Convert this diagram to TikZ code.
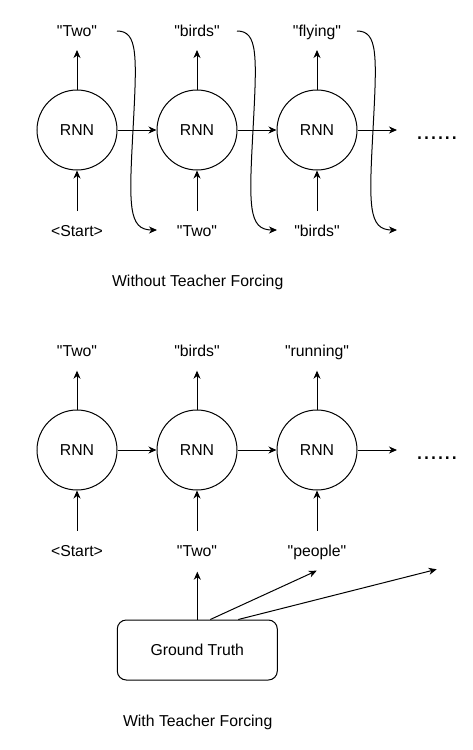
\documentclass[tikz,border=0pt]{standalone}
\usepackage{fontspec}
\setmainfont{Liberation Sans}[Ligatures=TeXOff]
\usetikzlibrary{arrows.meta}
\begin{document}
\begin{tikzpicture}[x=1pt,y=-1pt,
  txt/.style={font=\fontsize{15.8}{18}\selectfont},
  rnn/.style={draw,circle,minimum size=80pt,inner sep=0pt,line width=1pt,txt},
  lbl/.style={anchor=base,inner sep=0pt,txt},
  arr/.style={line width=1pt,-{Stealth[length=8pt,width=7pt,inset=2.5pt]}},
  gtbox/.style={draw,rounded corners=9pt,minimum width=160pt,minimum height=60pt,line width=1pt,inner sep=0pt,txt},
  dots/.style={anchor=base,inner sep=0pt,font=\fontsize{25}{28}\selectfont}
]
\useasboundingbox (0,0) rectangle (473,750);

% ---------- Without Teacher Forcing ----------
\node[rnn] (a1) at (77,130) {RNN};
\node[rnn] (a2) at (197,130) {RNN};
\node[rnn] (a3) at (317,130) {RNN};

\node[lbl] (at1) at (77,36) {"Two"};
\node[lbl] (at2) at (197,36) {"birds"};
\node[lbl] (at3) at (317,36) {"flying"};

\node[lbl] (ab1) at (77,236) {<Start>};
\node[lbl] (ab2) at (197,236) {"Two"};
\node[lbl] (ab3) at (317,236) {"birds"};

\node[dots] (adots) at (437,139) {......};

\coordinate (au1) at (77,50);
\coordinate (au2) at (197,50);
\coordinate (au3) at (317,50);
\coordinate (ad1) at (77,211);
\coordinate (ad2) at (197,211);
\coordinate (ad3) at (317,211);
\coordinate (aend) at (397,130);

\foreach \i in {1,2,3}{
  \draw[arr] (a\i) -- (au\i);
  \draw[arr] (ad\i) -- (a\i);
}
\draw[arr] (a1) -- (a2);
\draw[arr] (a2) -- (a3);
\draw[arr] (a3) -- (aend);

% curved feedback arrows
\foreach \k/\dx in {1/0,2/120,3/240}{
  \coordinate (cs\k) at (117+\dx,31);
  \coordinate (ce\k) at (157+\dx,230);
  \coordinate (cm\k) at (133+\dx,130);
  \draw[arr] (cs\k) .. controls (138+\dx,31) and (137+\dx,55) .. (cm\k)
     .. controls (129+\dx,205) and (128+\dx,230) .. (ce\k);
}

\node[lbl] (cap1) at (197.7,286) {Without Teacher Forcing};

% ---------- With Teacher Forcing ----------
\node[rnn] (b1) at (77,450) {RNN};
\node[rnn] (b2) at (197,450) {RNN};
\node[rnn] (b3) at (317,450) {RNN};

\node[lbl] (bt1) at (77,356.7) {"Two"};
\node[lbl] (bt2) at (197,356.7) {"birds"};
\node[lbl] (bt3) at (317,356.7) {"running"};

\node[lbl] (bb1) at (77,556) {<Start>};
\node[lbl] (bb2) at (197,556) {"Two"};
\node[lbl] (bb3) at (317,556) {"people"};

\node[dots] (bdots) at (437,459) {......};

\coordinate (bu1) at (77,370.7);
\coordinate (bu2) at (197,370.7);
\coordinate (bu3) at (317,370.7);
\coordinate (bd1) at (77,530.7);
\coordinate (bd2) at (197,530.7);
\coordinate (bd3) at (317,530.7);
\coordinate (bend) at (397,450);

\foreach \i in {1,2,3}{
  \draw[arr] (b\i) -- (bu\i);
  \draw[arr] (bd\i) -- (b\i);
}
\draw[arr] (b1) -- (b2);
\draw[arr] (b2) -- (b3);
\draw[arr] (b3) -- (bend);

\node[gtbox] (gt) at (197.3,650) {Ground Truth};
\coordinate (g1) at (197.3,571.7);
\coordinate (g2) at (316.7,570.7);
\coordinate (g3) at (436.7,569.3);
\draw[arr] (gt.north) -- (g1);
\draw[arr] ([xshift=13pt]gt.north) -- (g2);
\draw[arr] ([xshift=41pt]gt.north) -- (g3);

\node[lbl] (cap2) at (197.7,726) {With Teacher Forcing};
\end{tikzpicture}
\end{document}
